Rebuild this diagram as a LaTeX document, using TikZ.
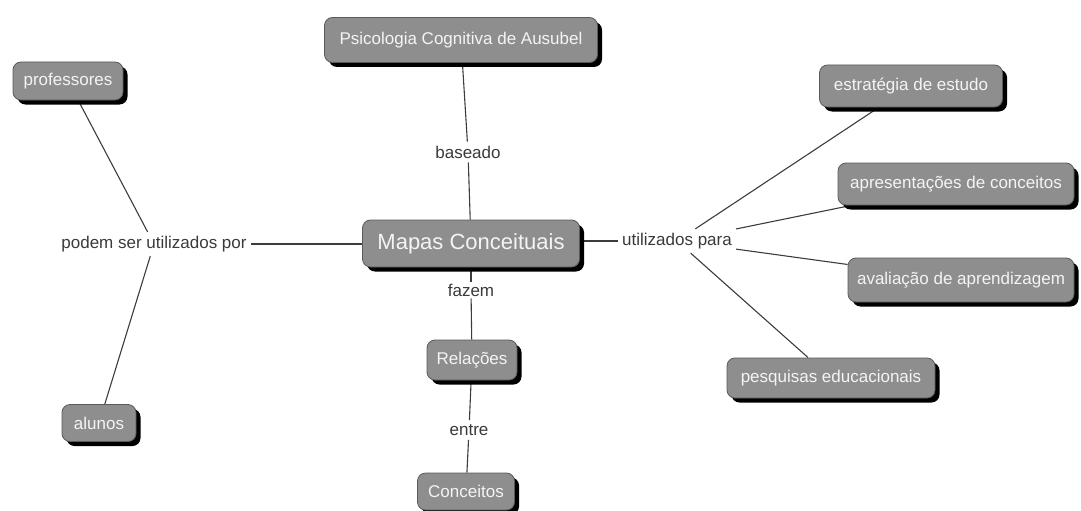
\documentclass[tikz,border=0pt]{standalone}
\usepackage{fontspec}
\setmainfont{Liberation Sans}
\usetikzlibrary{shadows,backgrounds}
\definecolor{boxfill}{HTML}{8E8E8E}
\definecolor{boxedge}{HTML}{5A5A5A}
\definecolor{boxtext}{HTML}{F4F4F4}
\definecolor{labeltext}{HTML}{3A3A3A}
\definecolor{linecol}{HTML}{3C3C3C}
\begin{document}
\begin{tikzpicture}[x=1pt,y=-1pt,
  concept/.style={draw=boxedge, line width=0.8pt, fill=boxfill,
    rounded corners=8pt, text=boxtext, inner sep=0pt,
    font=\fontsize{17}{20}\selectfont,
    drop shadow={shadow xshift=4.5pt, shadow yshift=-4.5pt, fill=black, opacity=1}},
  linkword/.style={text=labeltext, inner sep=4pt,
    font=\fontsize{17}{20}\selectfont},
  conn/.style={draw=linecol, line width=1.1pt}]
\useasboundingbox (0,0) rectangle (1081,511);

% concepts
\node[concept, minimum width=273pt, minimum height=45pt] (psico) at (461,40) {Psicologia Cognitiva de Ausubel};
\node[concept, minimum width=217pt, minimum height=47pt, font=\fontsize{22}{26}\selectfont] (mapas) at (471,243.5) {Mapas Conceituais};
\node[concept, minimum width=110pt, minimum height=38pt] (prof) at (68,81) {professores};
\node[concept, minimum width=74pt, minimum height=37pt] (alunos) at (99,423) {alunos};
\node[concept, minimum width=183pt, minimum height=42pt] (estr) at (911,86) {estratégia de estudo};
\node[concept, minimum width=236pt, minimum height=42pt] (apres) at (956,184) {apresentações de conceitos};
\node[concept, minimum width=226pt, minimum height=44pt] (aval) at (961,280) {avaliação de aprendizagem};
\node[concept, minimum width=208pt, minimum height=40pt] (pesq) at (831,378) {pesquisas educacionais};
\node[concept, minimum width=90pt, minimum height=40pt] (rel) at (472,360) {Relações};
\node[concept, minimum width=97pt, minimum height=37pt] (conc) at (466,491.5) {Conceitos};

% linking phrases
\node[linkword] (baseado) at (468,152) {baseado};
\node[linkword] (podem) at (154,244) {podem ser utilizados por};
\node[linkword] (util) at (677,241) {utilizados para};
\node[linkword, inner ysep=2pt] (fazem) at (471,290) {fazem};
\node[linkword] (entre) at (469,430) {entre};

% connectors
\begin{scope}[on background layer]
  \draw[conn] (psico) -- (baseado);
  \draw[conn] (baseado) -- (mapas);
  \draw[conn] (podem) -- (prof);
  \draw[conn] (podem) -- (alunos);
  \draw[conn] (podem.east) -- (mapas.west |- podem.east);
  \draw[conn] (mapas.east |- util.west) -- (util.west);
  \draw[conn] (util) -- (estr);
  \draw[conn] (util) -- (apres);
  \draw[conn] (util) -- (aval);
  \draw[conn] (util) -- (pesq);
  \draw[conn] (mapas) -- (fazem);
  \draw[conn] (fazem) -- (rel);
  \draw[conn] (rel) -- (entre);
  \draw[conn] (entre) -- (conc);
\end{scope}
\end{tikzpicture}
\end{document}
